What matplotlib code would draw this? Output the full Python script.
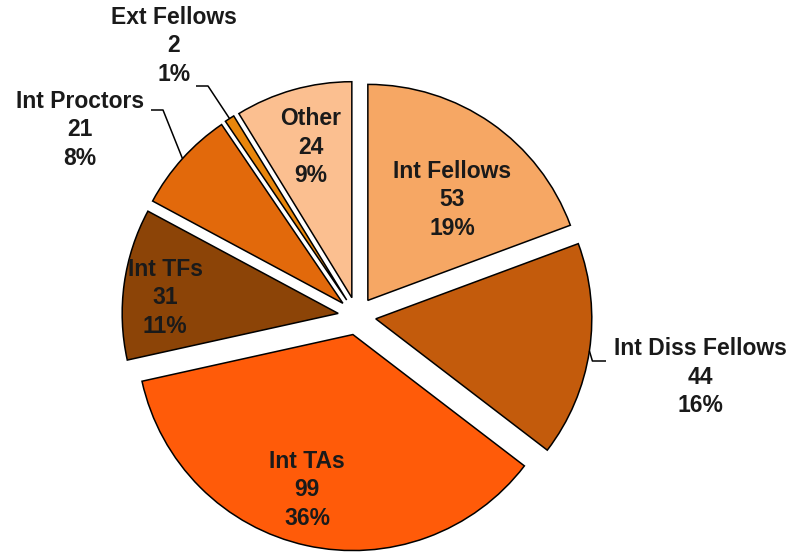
import numpy as np
import matplotlib.pyplot as plt

plt.rcParams['font.family'] = ['Liberation Sans', 'DejaVu Sans']

# slices, clockwise from 12 o'clock
labels = ['Int Fellows', 'Int Diss Fellows', 'Int TAs', 'Int TFs',
          'Int Proctors', 'Ext Fellows', 'Other']
counts = [53, 44, 99, 31, 21, 2, 24]
colors = ['#F6A764', '#C35B0C', '#FF5B09', '#8C4407',
          '#E2690B', '#E8860C', '#FBBF90']

# label text centres in pixel coords (from the top-left of the picture)
label_pos = [(452, 200), (700, 377), (307, 490), (165, 298),
             (80, 130), (174, 46), (311, 147)]
# labels that sit outside the pie and get a leader line: elbow point
leaders = {1: (606, 361), 4: (163, 110), 5: (208, 86)}

W, H = 798, 554
fig = plt.figure(figsize=(W / 100, H / 100), dpi=100)
ax = fig.add_axes([0, 0, 1, 1])

R = 216
cx, cy = 357, H - 316
expl = 19

wedges, _ = ax.pie(counts, colors=colors, startangle=90, counterclock=False,
                   radius=R, center=(cx, cy), explode=[expl] * len(counts),
                   wedgeprops=dict(edgecolor='black', linewidth=1.1))
ax.set_xlim(0, W)
ax.set_ylim(0, H)
ax.set_aspect('equal')
ax.axis('off')

total = sum(counts)
for i, (lab, n) in enumerate(zip(labels, counts)):
    pct = int(round(n / total * 100))
    px, py = label_pos[i]
    ax.text(px, H - py, '%s\n%d\n%d%%' % (lab, n, pct), ha='center', va='center',
            fontsize=16.5, fontweight='bold', color='#1a1a1a', linespacing=1.3)
    if i in leaders:
        w = wedges[i]
        th = np.deg2rad((w.theta1 + w.theta2) / 2)
        wx, wy = w.center
        ex, ey = wx + R * np.cos(th), wy + R * np.sin(th)
        lx, ly = leaders[i]
        if i == 1:
            xs = [ex, ex + 3, lx]
            ys = [ey, H - ly, H - ly]
        else:
            xs = [ex, lx, lx - 12]
            ys = [ey, H - ly, H - ly]
        ax.plot(xs, ys, color='black', lw=1.1, solid_capstyle='butt')

fig.savefig('out.png', dpi=100)
